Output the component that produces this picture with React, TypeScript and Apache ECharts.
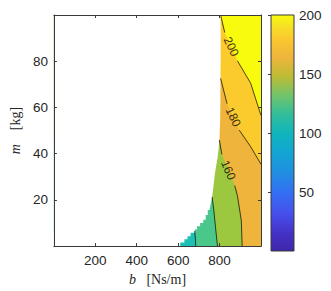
import React, { useEffect, useRef } from "react";
import * as echarts from "echarts";

// ---- axis ranges ----
const B_MIN = 0;
const B_MAX = 1000;
const M_MIN = 0;
const M_MAX = 100;
const CB_MIN = 0;
const CB_MAX = 200;
const B_INTERVAL = 200;
const M_INTERVAL = 20;
const CB_INTERVAL = 50;

// ---- contour levels and band colours (below first level, then each band upward) ----
const LEVELS = [120, 140, 160, 180, 200];
const BAND_COLORS = ["#1DBFB4", "#4AC88C", "#9CC83F", "#EEB43B", "#FBCB2E", "#F9FB0E"];

// ---- contour lines [b, m]; null marks the gap where the label sits ----
const C120: (number[] | null)[] = [[680, 6.5], [683, 3.4], [685, 0]];
const C140: (number[] | null)[] = [[764, 21.2], [772, 15.6], [780, 8.4], [790, 0]];
const C160: (number[] | null)[] = [[799, 45.9], [811, 39.7], null, [873, 26.2], [886, 21.9], [905, 11], [909, 0]];
const C180: (number[] | null)[] = [[805, 72.6], [836, 61.6], null, [895, 50.2], [950, 43], [1000, 35.4]];
const C200: (number[] | null)[] = [[805, 100], [825, 92.4], null, [886, 80.2], [950, 70.5], [1000, 56.5]];
const CONTOURS = [C120, C140, C160, C180, C200];

// ---- edge of the defined (non-NaN) region, bottom to top ----
const BOUNDARY = [
  [610, 0], [610, 1.6], [630, 1.6], [630, 3.0], [645, 3.0], [645, 4.3], [660, 4.3], [660, 5.8],
  [680, 5.8], [680, 7.2], [691, 7.2], [691, 8.6], [706, 8.6], [706, 10.0], [721, 10.0], [721, 11.4],
  [733, 11.4], [733, 13.5], [743, 13.5], [743, 15.6], [751, 15.6], [758, 18.5], [764, 21.2],
  [770, 25.5], [776, 30.4], [784, 35], [791, 38.8], [797, 43.5], [800, 47.3], [803, 55],
  [804, 64], [805, 80], [805, 100],
];

// ---- contour labels: b, m, level, rotation (deg) ----
const CONTOUR_LABELS = [
  [856, 86.3, 200, -65],
  [866, 55.9, 180, -64],
  [842, 32.9, 160, -67],
];

// ---- colour bar (parula-like) ----
const PARULA_STOPS: [number, string][] = [
  [0.0, "#3E26A8"],
  [0.08, "#4433C9"],
  [0.16, "#4650EC"],
  [0.25, "#3270F2"],
  [0.33, "#218DE2"],
  [0.42, "#12A6D2"],
  [0.5, "#10B5BC"],
  [0.58, "#33BE9A"],
  [0.66, "#72C46A"],
  [0.74, "#BDBC35"],
  [0.82, "#EEB43B"],
  [0.9, "#FBC92F"],
  [0.95, "#F6DF25"],
  [1.0, "#F9FB0E"],
];

const AX = "#3A3A3A";
const TXT = "#262626";
const SANS = "'Liberation Sans', Arial, sans-serif";
const SERIF = "'Liberation Serif', 'Times New Roman', serif";
const TICK_FONT = 13.5;

function buildFills() {
  const fills: { pts: number[][]; color: string }[] = [];
  fills.push({
    pts: [[B_MIN, M_MIN], [B_MAX, M_MIN], [B_MAX, M_MAX], [B_MIN, M_MAX]],
    color: BAND_COLORS[0],
  });
  CONTOURS.forEach((c, i) => {
    const pts = c.filter((p) => p !== null) as number[][];
    const start = pts[0];
    const end = pts[pts.length - 1];
    const poly = [...pts];
    if (end[1] === M_MIN) poly.push([B_MAX, M_MIN]);
    poly.push([B_MAX, M_MAX]);
    poly.push([B_MIN, M_MAX]);
    poly.push([B_MIN, start[1]]);
    fills.push({ pts: poly, color: BAND_COLORS[i + 1] });
  });
  fills.push({
    pts: [[B_MIN, M_MIN], ...BOUNDARY, [B_MIN, M_MAX]],
    color: "#FFFFFF",
  });
  return fills;
}

function splitSegments(c: (number[] | null)[]) {
  const segs: number[][][] = [];
  let cur: number[][] = [];
  c.forEach((p) => {
    if (p === null) {
      if (cur.length) segs.push(cur);
      cur = [];
    } else cur.push(p);
  });
  if (cur.length) segs.push(cur);
  return segs;
}

export default function App() {
  const ref = useRef<HTMLDivElement>(null);
  useEffect(() => {
    if (!ref.current) return;
    const chart = echarts.init(ref.current, undefined, { renderer: "svg" });
    const fills = buildFills();

    const lineSeries: any[] = [];
    CONTOURS.forEach((c) => {
      splitSegments(c).forEach((seg) => {
        lineSeries.push({
          type: "line",
          xAxisIndex: 0,
          yAxisIndex: 0,
          data: seg,
          symbol: "none",
          showSymbol: false,
          lineStyle: { color: "#000", width: 0.7 },
          silent: true,
          z: 3,
        });
      });
    });

    const axisCommon = {
      axisLine: { show: true, onZero: false, lineStyle: { color: AX, width: 1 } },
      axisTick: { show: true, inside: true, length: 3, lineStyle: { color: AX, width: 1 } },
      splitLine: { show: false },
      z: 10,
    };

    chart.setOption({
      animation: false,
      backgroundColor: "#fff",
      grid: [
        { left: 41, top: 15, width: 220, height: 237 },
        { left: 271, top: 15, width: 23, height: 236 },
      ],
      xAxis: [
        {
          ...axisCommon,
          gridIndex: 0,
          type: "value",
          min: B_MIN,
          max: B_MAX,
          interval: B_INTERVAL,
          position: "bottom",
          axisLabel: {
            color: TXT,
            fontSize: TICK_FONT,
            fontFamily: SANS,
            margin: 7,
            showMinLabel: false,
            showMaxLabel: false,
          },
          name: "{i|b}{n|   [Ns/m]}",
          nameLocation: "middle",
          nameGap: 24,
          nameTextStyle: {
            rich: {
              i: { fontFamily: SERIF, fontStyle: "italic", fontSize: 14, color: TXT },
              n: { fontFamily: SERIF, fontSize: 14, color: TXT },
            },
          },
        },
        {
          ...axisCommon,
          gridIndex: 0,
          type: "value",
          min: B_MIN,
          max: B_MAX,
          interval: B_INTERVAL,
          position: "top",
          axisLabel: { show: false },
        },
        { gridIndex: 1, type: "value", min: 0, max: 1, show: false },
      ],
      yAxis: [
        {
          ...axisCommon,
          gridIndex: 0,
          type: "value",
          min: M_MIN,
          max: M_MAX,
          interval: M_INTERVAL,
          position: "left",
          axisLabel: {
            color: TXT,
            fontSize: TICK_FONT,
            fontFamily: SANS,
            margin: 6,
            showMinLabel: false,
            showMaxLabel: false,
          },
          name: "{i|m}{n|    [kg]}",
          nameLocation: "middle",
          nameGap: 24,
          nameTextStyle: {
            rich: {
              i: { fontFamily: SERIF, fontStyle: "italic", fontSize: 14, color: TXT },
              n: { fontFamily: SERIF, fontSize: 14, color: TXT },
            },
          },
        },
        {
          ...axisCommon,
          gridIndex: 0,
          type: "value",
          min: M_MIN,
          max: M_MAX,
          interval: M_INTERVAL,
          position: "right",
          axisLabel: { show: false },
        },
        {
          gridIndex: 1,
          type: "value",
          min: CB_MIN,
          max: CB_MAX,
          interval: CB_INTERVAL,
          position: "right",
          axisLine: { show: false },
          axisTick: { show: true, inside: true, length: 3, lineStyle: { color: AX, width: 1 } },
          axisLabel: {
            color: TXT,
            fontSize: TICK_FONT,
            fontFamily: SANS,
            margin: 5,
            showMinLabel: false,
          },
          splitLine: { show: false },
          z: 10,
        },
      ],
      series: [
        {
          type: "custom",
          xAxisIndex: 0,
          yAxisIndex: 0,
          silent: true,
          z: 1,
          data: fills.map((_, i) => [i, 0]),
          renderItem: (_params: any, api: any) => {
            const f = fills[api.value(0)];
            return {
              type: "polygon",
              shape: { points: f.pts.map((p) => api.coord(p)) },
              style: { fill: f.color, stroke: null },
            };
          },
        },
        ...lineSeries,
        {
          type: "scatter",
          xAxisIndex: 0,
          yAxisIndex: 0,
          symbolSize: 0,
          silent: true,
          z: 4,
          data: CONTOUR_LABELS.map((l) => ({
            value: [l[0], l[1], l[2]],
            label: { rotate: l[3] },
          })),
          label: {
            show: true,
            position: "inside",
            formatter: (p: any) => String(p.value[2]),
            color: "#000",
            fontSize: 12,
            fontFamily: SANS,
          },
        },
        {
          type: "custom",
          xAxisIndex: 2,
          yAxisIndex: 2,
          silent: true,
          z: 1,
          data: [[0, CB_MIN, 1, CB_MAX]],
          renderItem: (_params: any, api: any) => {
            const p0 = api.coord([api.value(0), api.value(1)]);
            const p1 = api.coord([api.value(2), api.value(3)]);
            return {
              type: "rect",
              shape: { x: p0[0], y: p1[1], width: p1[0] - p0[0], height: p0[1] - p1[1] },
              style: {
                fill: {
                  type: "linear",
                  x: 0,
                  y: 1,
                  x2: 0,
                  y2: 0,
                  colorStops: PARULA_STOPS.map(([offset, color]) => ({ offset, color })),
                },
                stroke: AX,
                lineWidth: 1,
              },
            };
          },
        },
      ],
    });
    return () => chart.dispose();
  }, []);
  return (
    <div
      ref={ref}
      style={{ position: "fixed", left: 0, top: 0, width: 331, height: 291 }}
    />
  );
}
